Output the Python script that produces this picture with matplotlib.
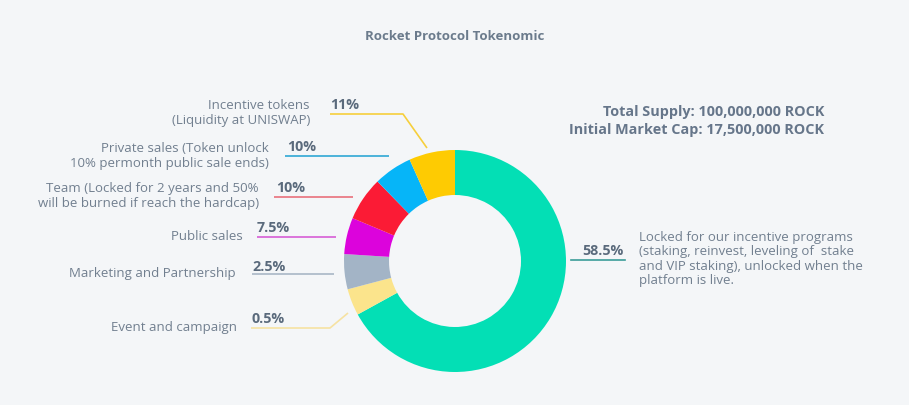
import matplotlib.pyplot as plt

# slice sizes as drawn (clockwise from 12 o'clock)
slice_sizes = [67.0, 3.9, 5.1, 5.3, 6.4, 5.6, 6.7]
slice_colors = ['#03dfb5', '#fbe48c', '#a3b4c6', '#dc03dc', '#fb1b35', '#06b5f8', '#fecb02']

# label texts
pct_labels = ['58.5%', '0.5%', '2.5%', '7.5%', '10%', '10%', '11%']
descriptions = [
    "Locked for our incentive programs\n(staking, reinvest, leveling of  stake\nand VIP staking), unlocked when the\nplatform is live.",
    "Event and campaign",
    "Marketing and Partnership",
    "Public sales",
    "Team (Locked for 2 years and 50%\nwill be burned if reach the hardcap)",
    "Private sales (Token unlock\n10% permonth public sale ends)",
    "Incentive tokens\n(Liquidity at UNISWAP)",
]
line_colors = ['#3a9c98', '#f6e2a2', '#a9b7c6', '#d65ed6', '#e9707c', '#2fa7d5', '#f6cf3c']

title = "Rocket Protocol Tokenomic"
supply_lines = ["Total Supply: 100,000,000 ROCK", "Initial Market Cap: 17,500,000 ROCK"]

W, H = 909, 405
BG = '#f4f6f8'
TXT = '#717f8f'
PCT = '#5a6a7c'
plt.rcParams['font.family'] = ['Open Sans', 'DejaVu Sans']

fig = plt.figure(figsize=(W / 100, H / 100), dpi=100, facecolor=BG)
ax = fig.add_axes([0, 0, 1, 1])


def Y(y):
    # image pixel row -> axis y
    return H - y


ax.pie(slice_sizes, colors=slice_colors, startangle=90, counterclock=False,
       center=(455, Y(261)), radius=111, frame=True,
       wedgeprops=dict(width=45, linewidth=0))
ax.set_xlim(0, W)
ax.set_ylim(0, H)
ax.set_aspect('equal')
ax.axis('off')

ax.text(455, Y(36), title, ha='center', va='center', fontsize=9.5,
        fontweight='bold', color='#6b7b8c')
ax.text(824, Y(112), supply_lines[0], ha='right', va='center', fontsize=10.4,
        fontweight='bold', color='#66768a')
ax.text(824, Y(130), supply_lines[1], ha='right', va='center', fontsize=10.4,
        fontweight='bold', color='#66768a')

# left labels: (pct x, pct y, line x0, line x1, line y, desc right x, desc y, elbow)
left = {
    6: (330, 105, 330, 403, 114, 310, 113, (427, 148)),
    5: (287, 147, 285, 389, 156, 269, 156, None),
    4: (276, 188, 274, 353, 197, 259, 196, None),
    3: (257, 228, 257, 336, 237, 243, 236, None),
    2: (252, 267, 252, 334, 274, 236, 273, None),
    1: (251, 319, 251, 330, 328, 237, 327, (348, 313)),
}
for i, (px, py, x0, x1, ly, dx, dy, elbow) in left.items():
    ax.text(px, Y(py), pct_labels[i], ha='left', va='center', fontsize=10.3,
            fontweight='bold', color=PCT)
    xs, ys = [x0, x1], [Y(ly), Y(ly)]
    if elbow:
        xs.append(elbow[0])
        ys.append(Y(elbow[1]))
    ax.plot(xs, ys, color=line_colors[i], lw=1.2, solid_capstyle='butt')
    ax.text(dx, Y(dy), descriptions[i], ha='right', va='center', fontsize=9.5,
            color=TXT, linespacing=1.15)

# right label
ax.text(624, Y(251), pct_labels[0], ha='right', va='center', fontsize=10.3,
        fontweight='bold', color=PCT)
ax.plot([571, 625], [Y(260), Y(260)], color=line_colors[0], lw=1.2)
ax.text(639, Y(259), descriptions[0], ha='left', va='center', fontsize=9.5,
        color=TXT, linespacing=1.15)

fig.savefig('out.png', dpi=100, facecolor=BG)
